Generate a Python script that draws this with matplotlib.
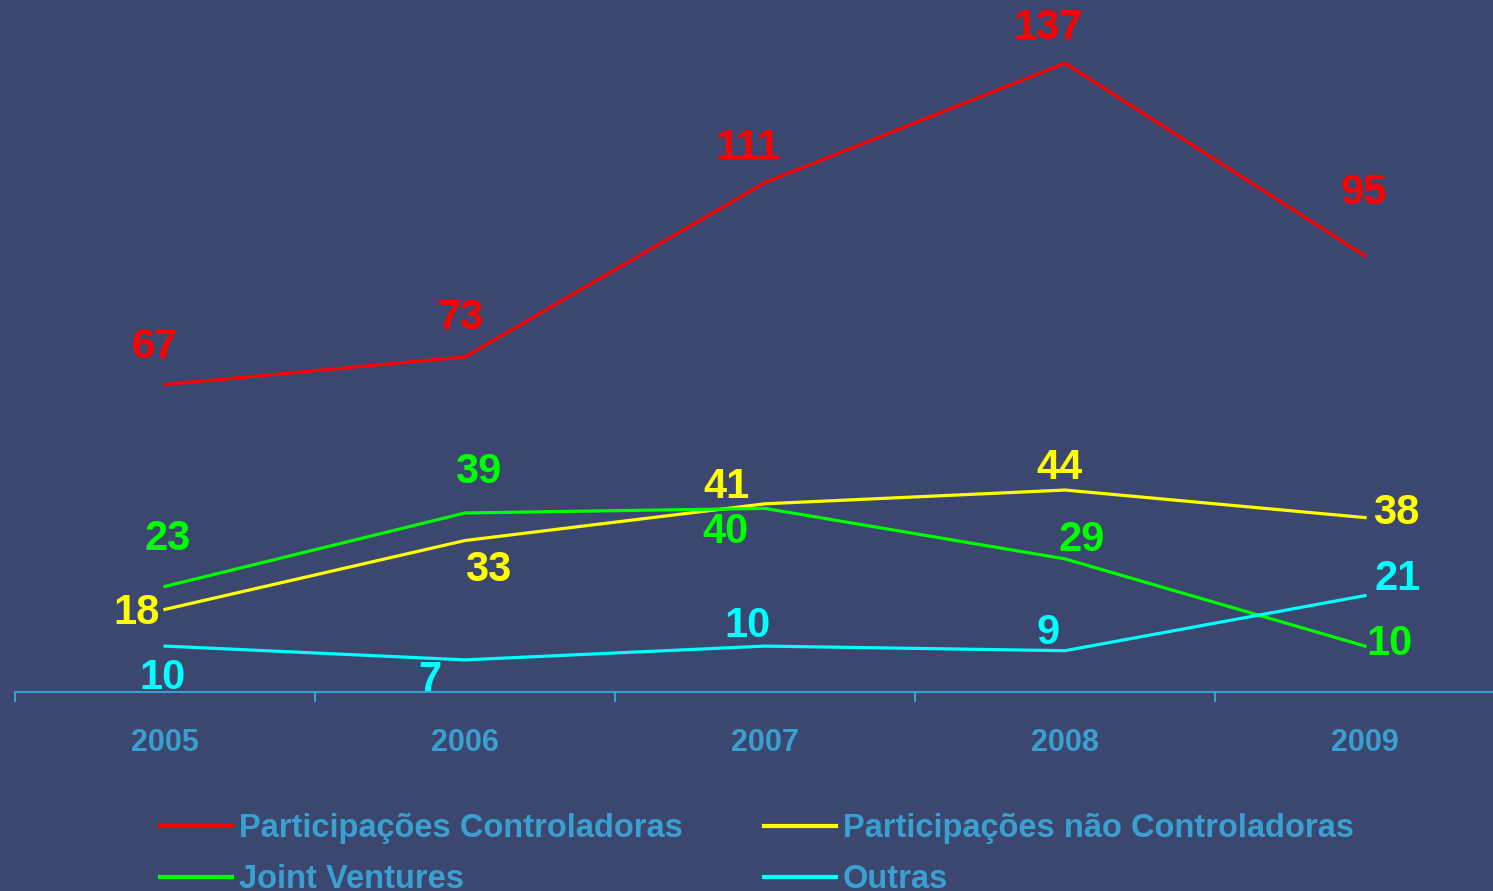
import matplotlib.pyplot as plt

# dados
anos = ['2005', '2006', '2007', '2008', '2009']
controladoras = [67, 73, 111, 137, 95]
nao_controladoras = [18, 33, 41, 44, 38]
joint_ventures = [23, 39, 40, 29, 10]
outras = [10, 7, 10, 9, 21]

# deslocamento dos rótulos (pixels)
off_controladoras = [(-10, 37), (-5, 39), (-17, 35), (-17, 35), (-1, 63)]
off_nao_controladoras = [(-28, -4), (23, -29), (-38, 17), (-5, 22), (31, 5)]
off_joint = [(3, 47), (13, 41), (-39, -24), (17, 19), (25, 2)]
off_outras = [(-2, -32), (-35, -20), (-17, 20), (-17, 18), (33, 17)]

bg = '#3B476F'
azul = '#3AA0D2'
plt.rcParams['font.family'] = ['Liberation Sans', 'DejaVu Sans']

fig = plt.figure(figsize=(14.93, 8.91), dpi=100, facecolor=bg)
ax = fig.add_axes([15 / 1493, 199 / 891, 1500 / 1493, 692 / 891])
ax.set_facecolor(bg)

series = [
    ('Participações Controladoras', controladoras, '#FF0000', off_controladoras),
    ('Participações não Controladoras', nao_controladoras, '#FFFF00', off_nao_controladoras),
    ('Joint Ventures', joint_ventures, '#00FF00', off_joint),
    ('Outras', outras, '#00FFFF', off_outras),
]
x = list(range(len(anos)))
handles = {}
for nome, vals, cor, offs in series:
    ln, = ax.plot(x, vals, color=cor, lw=2.3, solid_joinstyle='miter')
    handles[nome] = ln
    for xi, v, (dx, dy) in zip(x, vals, offs):
        ax.annotate(str(v), (xi, v), xytext=(dx, dy), textcoords='offset pixels',
                    ha='center', va='center', color=cor, fontsize=30,
                    fontweight='bold', annotation_clip=False)

ax.set_xlim(-0.5, 4.5)
ax.set_ylim(0, 692 / 4.59)
for s in ['top', 'right', 'left']:
    ax.spines[s].set_visible(False)
ax.spines['bottom'].set_color(azul)
ax.spines['bottom'].set_linewidth(1.5)
ax.set_yticks([])
ax.set_xticks([-0.5, 0.5, 1.5, 2.5, 3.5, 4.5])
ax.set_xticklabels([])
ax.tick_params(axis='x', which='major', length=7, width=1.5, color=azul, direction='out')
ax.set_xticks(x, minor=True)
ax.set_xticklabels(anos, minor=True)
ax.tick_params(axis='x', which='minor', length=0, pad=26, labelsize=22, labelcolor=azul)
for t in ax.get_xticklabels(minor=True):
    t.set_fontweight('bold')

ordem = ['Participações Controladoras', 'Joint Ventures',
         'Participações não Controladoras', 'Outras']
leg = fig.legend([handles[n] for n in ordem], ordem, ncol=2, loc='upper left',
                 bbox_to_anchor=(160 / 1493, 1 - 813 / 891), frameon=False,
                 borderpad=0, borderaxespad=0, handlelength=2.2, handletextpad=0.22,
                 columnspacing=2.48, labelspacing=0.62,
                 prop={'size': 23.5, 'weight': 'bold'})
for t in leg.get_texts():
    t.set_color(azul)
for l in leg.get_lines():
    l.set_linewidth(3)

fig.savefig('out.png', dpi=100, facecolor=bg)
